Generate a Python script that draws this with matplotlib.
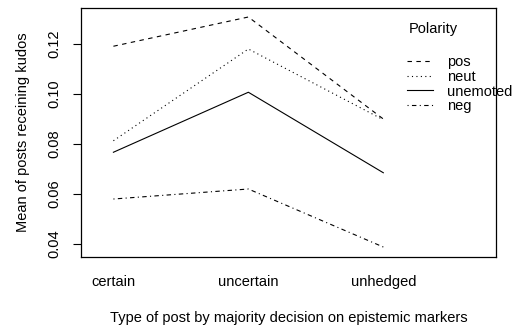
import matplotlib
matplotlib.use('Agg')
import matplotlib.pyplot as plt

# Datos
tipos = ['certain', 'uncertain', 'unhedged']
polaridades = ['pos', 'neut', 'unemoted', 'neg']
media_pos = [0.1190, 0.1307, 0.0899]
media_neut = [0.0812, 0.1179, 0.0896]
media_unemoted = [0.0766, 0.1006, 0.0684]
media_neg = [0.0579, 0.0619, 0.0387]
yticks = [0.04, 0.06, 0.08, 0.10, 0.12]

series = [media_pos, media_neut, media_unemoted, media_neg]
estilos = [(0, (4, 4)), (0, (1, 3)), 'solid', (0, (1, 3, 4, 3))]

plt.rcParams['font.family'] = ['Liberation Sans', 'DejaVu Sans']
plt.rcParams['font.size'] = 10.5

fig = plt.figure(figsize=(5.17, 3.29), dpi=100)
ax = fig.add_axes([0.1567, 0.2188, 0.8027, 0.7569])

x = list(range(1, len(tipos) + 1))
for nombre, valores, estilo in zip(polaridades, series, estilos):
    ax.plot(x, valores, color='black', linestyle=estilo, linewidth=0.8, label=nombre)

ax.set_xlim(0.76, 3.835)
ax.set_ylim(0.0347, 0.1343)

ax.set_xticks(x)
ax.set_xticklabels(tipos)
ax.tick_params(axis='x', length=0, pad=13)
ax.set_yticks(yticks)
ax.set_yticklabels([f'{v:.2f}' for v in yticks], rotation=90, va='center')
ax.tick_params(axis='y', length=6, width=0.8, pad=8)

for spine in ax.spines.values():
    spine.set_linewidth(0.9)

ax.set_xlabel('Type of post by majority decision on epistemic markers', labelpad=16)
ax.set_ylabel('Mean of posts receining kudos', labelpad=13)

# Leyenda estilo interaction.plot de R
ax.text(0.79, 0.916, 'Polarity', transform=ax.transAxes, va='center', ha='left')
ax.legend(loc='upper left', bbox_to_anchor=(0.786, 0.812), frameon=False,
          borderpad=0, borderaxespad=0, handlelength=1.8, handletextpad=0.95,
          labelspacing=0.06)

fig.savefig('out.png', dpi=100)
